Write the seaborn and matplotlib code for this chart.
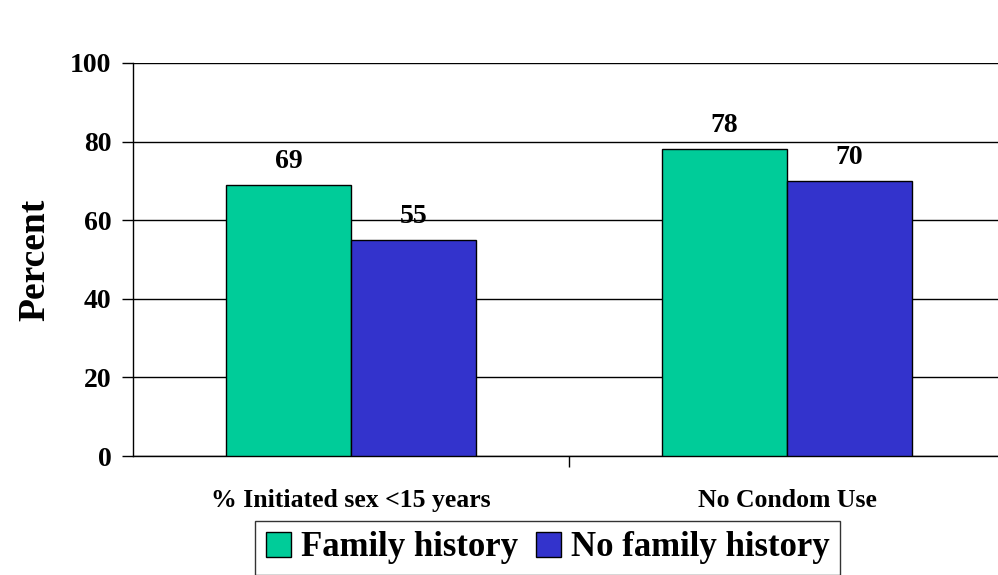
import matplotlib
matplotlib.use("Agg")
import matplotlib.pyplot as plt
import seaborn as sns
import pandas as pd

categories = ["% Initiated sex <15 years", "No Condom Use"]
series = ["Family history", "No family history"]
family_history = [69, 78]
no_family_history = [55, 70]
colors = ["#00CC99", "#3333CC"]
yticks = [0, 20, 40, 60, 80, 100]

df = pd.DataFrame({
    "category": categories * 2,
    "group": [series[0]] * 2 + [series[1]] * 2,
    "value": family_history + no_family_history,
})

sns.set_theme(style="white")
plt.rcParams["font.family"] = ["Liberation Serif", "DejaVu Serif"]
plt.rcParams["font.weight"] = "bold"
for k in ["text.color", "axes.labelcolor", "xtick.color", "ytick.color"]:
    plt.rcParams[k] = "black"

fig = plt.figure(figsize=(9.98, 5.75), dpi=100)
ax = fig.add_axes([133 / 998, 1 - 456 / 575, 872 / 998, (456 - 63) / 575])

sns.barplot(data=df, x="category", y="value", hue="group", palette=colors,
            hue_order=series, order=categories, width=0.573, edgecolor="black",
            linewidth=1, saturation=1, ax=ax, zorder=3)

ax.set_xlim(-0.5, 1.5)
ax.set_ylim(0, 100)
ax.set_yticks(yticks)
ax.set_yticklabels([str(t) for t in yticks], fontsize=20, fontweight="bold")
ax.set_xticks([0.5], minor=False)
ax.set_xticklabels([""])
for i, c in enumerate(categories):
    ax.text(i, -0.084, c, transform=ax.get_xaxis_transform(), ha="center", va="top",
            fontsize=18.5, fontweight="bold")
ax.tick_params(axis="y", direction="out", length=8, width=1, color="black", pad=7.5, left=True)
ax.tick_params(axis="x", direction="out", length=8, width=1, color="black", bottom=True)
ax.yaxis.grid(True, color="black", linewidth=1, zorder=0)
ax.set_axisbelow(True)
for s in ["top", "right"]:
    ax.spines[s].set_visible(False)
for s in ["left", "bottom"]:
    ax.spines[s].set_color("black")
    ax.spines[s].set_linewidth(1)
ax.set_xlabel("")
ax.set_ylabel("Percent", fontsize=27, fontweight="bold", labelpad=13)

for cont in ax.containers:
    ax.bar_label(cont, fmt="%d", padding=8, fontsize=20, fontweight="bold")

leg = ax.legend(loc="upper center", bbox_to_anchor=(0.549, 1 - 521 / 575),
                bbox_transform=fig.transFigure, ncol=2, frameon=True, fancybox=False,
                prop={"size": 25, "weight": "bold"}, handlelength=0.72, handleheight=0.72,
                handletextpad=0.3, columnspacing=0.5, borderpad=0.3, borderaxespad=0)
leg.get_frame().set_edgecolor("black")
leg.get_frame().set_linewidth(1)

fig.savefig("out.png", dpi=100)
